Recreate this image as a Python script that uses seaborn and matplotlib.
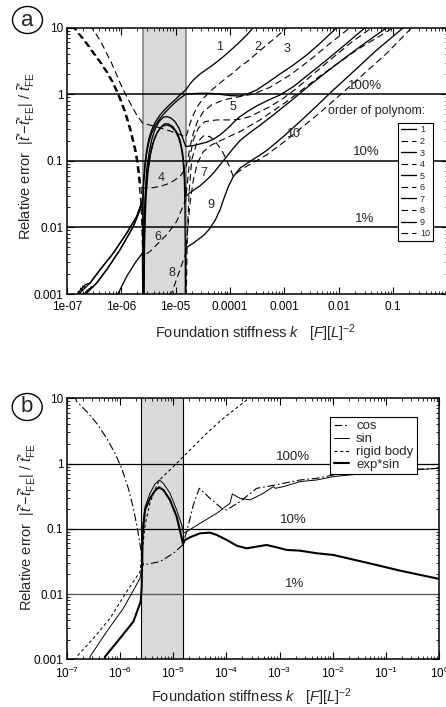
import numpy as np
import matplotlib
matplotlib.use("Agg")
import matplotlib.pyplot as plt
import seaborn as sns
from matplotlib.lines import Line2D
from matplotlib.patches import Ellipse
from matplotlib.ticker import LogLocator, NullFormatter

# ---------------- data (exponents: log10 k , log10 error) ----------------
k_left_edge = 2.5e-6
k_right_edge = 1.54e-5
ref_levels = [1.0, 0.1, 0.01]

# panel a : order of polynomial 1..10
c1_k = [-6.80,-6.785,-6.77,-6.755,-6.74,-6.72,-6.70,-6.68,-6.66,-6.571,-6.387,-6.142,-5.897,-5.713,-5.603,
        -5.585,-5.560,-5.529,-5.487,-5.438,-5.376,-5.284,-5.192,-5.100,-5.009,-4.917,-4.812,
        -4.733,-4.672,-4.549,-4.426,-4.273,-4.120,-3.967,-3.814,-3.691,-3.569,-3.507]
c1_e = [-3.02,-2.96,-3.00,-2.95,-2.91,-2.94,-2.88,-2.90,-2.86,-2.835,-2.635,-2.385,-2.085,-1.835,-1.585,
        -1.285,-1.035,-0.835,-0.66,-0.535,-0.425,-0.31,-0.225,-0.15,-0.085,-0.01,0.065,
        0.155,0.215,0.305,0.375,0.465,0.565,0.675,0.79,0.89,1.0,1.05]
c2_k = [-6.575,-6.540,-6.449,-6.357,-6.265,-6.173,-6.081,-5.989,-5.897,-5.805,-5.713,-5.603,-5.407,-5.162,-4.978,-4.812,
        -4.776,-4.733,-4.672,-4.598,-4.488,-4.335,-4.151,-3.936,-3.814,-3.661,-3.507,-3.324,-3.140,-2.956,-2.895]
c2_e = [1.04,1.0,0.89,0.765,0.615,0.465,0.29,0.115,-0.035,-0.175,-0.31,-0.435,-0.475,-0.535,-0.585,-0.645,
        -0.56,-0.435,-0.31,-0.185,-0.06,0.065,0.19,0.325,0.415,0.505,0.615,0.74,0.865,1.0,1.065]
c3_k = [-6.67,-6.655,-6.64,-6.625,-6.61,-6.59,-6.57,-6.55,-6.53,-6.449,-6.265,-6.020,-5.775,-5.603,
        -5.585,-5.560,-5.529,-5.487,-5.438,-5.376,-5.284,-5.192,-5.100,-5.009,-4.917,-4.812,
        -4.672,-4.549,-4.365,-4.181,-3.998,-3.814,-3.691,-3.507,-3.324,-3.078,-2.833,-2.588,-2.343,-2.037,-1.975]
c3_e = [-3.02,-2.97,-3.00,-2.94,-2.96,-2.92,-2.93,-2.89,-2.90,-2.835,-2.635,-2.335,-1.985,-1.635,
        -1.335,-1.085,-0.885,-0.71,-0.585,-0.475,-0.36,-0.275,-0.195,-0.125,-0.06,0.0,
        0.01,0.015,0.015,0.0,-0.02,-0.025,0.0,0.065,0.165,0.305,0.44,0.59,0.765,1.0,1.04]
c4_k = [-6.90,-6.865,-6.755,-6.632,-6.510,-6.387,-6.265,-6.142,-6.020,-5.928,-5.836,-5.775,-5.725,-5.689,-5.658,-5.630,-5.603,
        -5.468,-5.284,-5.100,-4.917,-4.812,
        -4.776,-4.733,-4.672,-4.598,-4.488,-4.335,-4.120,-3.814,-3.569,-3.262,-2.895,-2.527,-2.159,-1.792,-1.730]
c4_e = [1.04,1.0,0.89,0.765,0.625,0.49,0.34,0.165,-0.06,-0.26,-0.51,-0.71,-0.885,-1.085,-1.31,-1.39,-1.41,
        -1.41,-1.385,-1.335,-1.235,-1.11,
        -0.985,-0.785,-0.585,-0.41,-0.26,-0.16,-0.085,-0.035,0.005,0.105,0.29,0.515,0.765,1.0,1.03]
c5_k = [-6.67,-6.449,-6.265,-6.020,-5.775,-5.603,-5.597,
        -5.591,-5.578,-5.560,-5.529,-5.487,-5.438,-5.376,-5.303,-5.223,-5.162,-5.088,-5.009,-4.935,-4.874,-4.812,
        -4.672,-4.549,-4.426,-4.304,-4.181,-4.059,-3.936,-3.814,-3.661,-3.507,-3.324,-3.078,-2.833,-2.527,-2.221,-1.853,-1.516,-1.455]
c5_e = [-3.02,-2.835,-2.635,-2.335,-1.985,-1.635,-3.2,
        -3.2,-2.085,-1.535,-1.135,-0.885,-0.685,-0.525,-0.41,-0.345,-0.335,-0.355,-0.41,-0.51,-0.645,-0.785,
        -0.77,-0.745,-0.72,-0.675,-0.61,-0.525,-0.425,-0.335,-0.25,-0.175,-0.1,-0.01,0.115,0.315,0.515,0.765,1.0,1.035]
c6_k = [-6.915,-6.88,-6.77,-6.647,-6.525,-6.402,-6.28,-6.157,-6.035,-5.943,-5.851,-5.79,-5.74,-5.704,-5.673,-5.649,-5.630,-5.603,
        -5.468,-5.346,-5.162,-4.978,-4.812,
        -4.776,-4.733,-4.672,-4.580,-4.457,-4.243,-3.998,-3.814,-3.630,-3.446,-3.262,-3.017,-2.772,-2.466,-2.159,-1.792,-1.393,-1.332]
c6_e = [1.04,1.0,0.89,0.765,0.625,0.49,0.34,0.165,-0.06,-0.26,-0.51,-0.71,-0.885,-1.085,-1.31,-1.535,-1.685,-2.435,
        -2.36,-2.26,-2.11,-1.91,-1.585,
        -1.285,-0.935,-0.685,-0.51,-0.41,-0.385,-0.385,-0.375,-0.335,-0.26,-0.185,-0.06,0.09,0.305,0.515,0.765,1.0,1.03]
c7_k = [-6.80,-6.571,-6.387,-6.142,-5.897,-5.713,-5.603,-5.598,
        -5.585,-5.572,-5.554,-5.523,-5.480,-5.425,-5.358,-5.284,-5.205,-5.131,-5.051,-4.978,-4.917,-4.868,-4.837,-4.812,
        -4.733,-4.549,-4.426,-4.304,-4.181,-4.059,-3.936,-3.814,-3.630,-3.446,-3.201,-2.895,-2.527,-2.098,-1.608,-1.118,-1.057]
c7_e = [-3.02,-2.835,-2.635,-2.385,-2.085,-1.835,-1.585,-3.2,
        -3.2,-2.185,-1.635,-1.235,-0.96,-0.76,-0.61,-0.51,-0.445,-0.445,-0.485,-0.565,-0.685,-0.885,-1.135,-1.535,
        -1.475,-1.375,-1.285,-1.185,-1.06,-0.935,-0.81,-0.695,-0.575,-0.465,-0.31,-0.11,0.14,0.415,0.715,1.0,1.03]
c8_k = [-6.888,-6.853,-6.743,-6.62,-6.498,-6.375,-6.253,-6.13,-6.008,-5.916,-5.824,-5.763,-5.713,-5.677,-5.646,-5.622,-5.603,-5.600,
        -5.09,-5.070,-4.917,-4.812,
        -4.776,-4.733,-4.672,-4.598,-4.488,-4.335,-4.120,-3.814,-3.446,-2.956,-2.343,-1.669,-0.995,-0.934]
c8_e = [1.04,1.0,0.89,0.765,0.625,0.49,0.34,0.165,-0.06,-0.26,-0.51,-0.71,-0.885,-1.085,-1.31,-1.535,-1.685,-3.2,
        -3.2,-2.985,-2.635,-2.385,
        -2.035,-1.635,-1.285,-1.035,-0.86,-0.76,-0.675,-0.56,-0.385,-0.11,0.275,0.665,1.0,1.03]
c9_k = [-6.08,-6.050,-5.897,-5.744,-5.609,-5.600,
        -5.582,-5.566,-5.542,-5.505,-5.456,-5.395,-5.321,-5.241,-5.162,-5.082,-5.009,-4.947,-4.898,-4.861,-4.837,-4.825,-4.816,-4.812,
        -4.672,-4.549,-4.457,-4.365,-4.273,-4.181,-4.108,-4.028,-3.936,-3.814,-3.661,-3.507,-3.324,-3.017,-2.711,-2.404,-2.098,-1.730,-1.301,-0.811,-0.750]
c9_e = [-3.2,-2.985,-2.735,-2.535,-2.385,-3.2,
        -3.2,-2.085,-1.535,-1.16,-0.885,-0.685,-0.55,-0.48,-0.46,-0.485,-0.545,-0.645,-0.785,-0.985,-1.285,-1.785,-3.2,-2.31,
        -2.235,-2.16,-2.1,-2.01,-1.895,-1.735,-1.56,-1.385,-1.235,-1.11,-1.025,-0.945,-0.845,-0.635,-0.41,-0.175,0.065,0.34,0.665,1.0,1.03]
c10_k = [-4.806,-4.782,-4.751,-4.702,-4.610,-4.488,-4.365,-4.243,-4.120,-4.010,-3.936,-3.863,-3.752,-3.569,-3.324,-2.956,
         -2.343,-1.608,-1.118,-0.658,-0.597]
c10_e = [-3.2,-2.085,-1.485,-0.985,-0.735,-0.625,-0.635,-0.735,-0.885,-1.085,-1.235,-1.175,-1.11,-1.025,-0.91,-0.685,
         -0.275,0.255,0.615,1.0,1.03]

orders = ["1", "2", "3", "4", "5", "6", "7", "8", "9", "10"]
curves_k = [c1_k, c2_k, c3_k, c4_k, c5_k, c6_k, c7_k, c8_k, c9_k, c10_k]
curves_e = [c1_e, c2_e, c3_e, c4_e, c5_e, c6_e, c7_e, c8_e, c9_e, c10_e]
# curve number labels (log k, log err)
num_label_k = [-4.181, -3.49, -2.956, -5.266, -3.936, -5.333, -4.475, -5.058, -4.353, -2.833]
num_label_e = [0.715, 0.715, 0.675, -1.26, -0.195, -2.145, -1.185, -2.685, -1.66, -0.595]

# panel b : trial functions
cos_k = [-6.86,-6.81,-6.624,-6.436,-6.249,-6.092,-5.967,-5.842,-5.748,-5.685,-5.635,-5.610,-5.597,-5.560,-5.247,-4.996,-4.821,
         -4.746,-4.621,-4.508,-4.307,-4.088,-3.994,-3.744,-3.431,-3.243,-2.930,-2.617,-2.304,-1.991,-1.364,-0.738,0.0]
cos_e = [1.05,0.95,0.796,0.617,0.387,0.157,-0.073,-0.379,-0.686,-0.941,-1.171,-1.299,-1.40,-1.554,-1.503,-1.375,-1.248,
         -1.043,-0.635,-0.379,-0.533,-0.686,-0.711,-0.584,-0.379,-0.354,-0.303,-0.252,-0.226,-0.175,-0.124,-0.098,-0.073]
sin_k = [-6.60,-6.562,-6.249,-5.935,-5.622,-5.597,-5.572,-5.528,-5.435,-5.341,-5.259,-5.184,-5.059,-4.934,-4.840,-4.808,-4.746,
         -4.495,-4.182,-3.932,-3.888,-3.744,-3.556,-3.306,-3.118,-3.08,-2.930,-2.617,-2.304,-1.991,-1.364,-0.738,0.0]
sin_e = [-3.2,-2.959,-2.576,-2.218,-1.759,-1.631,-0.967,-0.660,-0.456,-0.313,-0.252,-0.303,-0.456,-0.711,-0.941,-1.069,-1.043,
         -0.916,-0.762,-0.609,-0.466,-0.533,-0.558,-0.456,-0.354,-0.38,-0.354,-0.277,-0.252,-0.200,-0.149,-0.109,-0.073]
rigid_k = [-6.85,-6.812,-6.499,-6.186,-5.873,-5.622,-5.585,-5.528,-5.435,-5.341,-5.259,-4.996,-4.808,-4.370,-4.057,-3.619,-3.55]
rigid_e = [-3.2,-2.959,-2.678,-2.372,-1.963,-1.656,-1.375,-0.95,-0.6,-0.40,-0.252,-0.047,0.106,0.464,0.693,0.974,1.02]
expsin_k = [-6.32,-6.280,-5.998,-5.748,-5.610,-5.591,-5.572,-5.528,-5.435,-5.341,-5.265,-5.184,-5.059,-4.934,-4.852,-4.815,-4.777,
            -4.683,-4.495,-4.307,-4.182,-3.994,-3.807,-3.619,-3.431,-3.243,-3.055,-2.867,-2.617,-2.304,-1.991,-1.364,-0.738,0.0]
expsin_e = [-3.2,-2.959,-2.678,-2.423,-2.116,-1.886,-1.069,-0.711,-0.533,-0.415,-0.364,-0.405,-0.558,-0.814,-1.094,-1.232,-1.171,
            -1.130,-1.069,-1.059,-1.094,-1.171,-1.258,-1.299,-1.273,-1.248,-1.284,-1.324,-1.335,-1.375,-1.401,-1.519,-1.641,-1.769]
trial_names = ["cos", "sin", "rigid body", "exp*sin"]

a_xticks = [1e-7, 1e-6, 1e-5, 1e-4, 1e-3, 1e-2, 1e-1]
a_xticklabels = ["1e-07", "1e-06", "1e-05", "0.0001", "0.001", "0.01", "0.1"]
yticks = [1e-3, 1e-2, 1e-1, 1, 10]
yticklabels = ["0.001", "0.01", "0.1", "1", "10"]

# ---------------- style ----------------
sns.set_theme(style="ticks")
plt.rcParams["font.family"] = ["Liberation Sans", "DejaVu Sans"]
plt.rcParams["mathtext.fontset"] = "custom"
plt.rcParams["mathtext.rm"] = "Liberation Sans"
plt.rcParams["mathtext.it"] = "Liberation Sans:italic"
plt.rcParams["mathtext.bf"] = "Liberation Sans:bold"

W, H = 446, 707
fig = plt.figure(figsize=(W / 100, H / 100), dpi=100)
fig.patch.set_facecolor("white")
ax_a = fig.add_axes([66.7 / W, (H - 294) / H, (447.5 - 66.7) / W, (294 - 27.7) / H])
ax_b = fig.add_axes([66.7 / W, (H - 659.3) / H, (439.3 - 66.7) / W, (659.3 - 398.3) / H])

def draw(ax, lk, le, **kw):
    sns.lineplot(x=10 ** np.asarray(lk, float), y=10 ** np.asarray(le, float), ax=ax,
                 sort=False, estimator=None, color="black", legend=False, **kw)

dash_a = (0, (6, 3.5))
for ax in (ax_a, ax_b):
    ax.set_xscale("log")
    ax.set_yscale("log")
    ax.set_xlim(1e-7, 1)
    ax.set_ylim(1e-3, 10)
    ax.set_facecolor("white")

# ---- panel a ----
ax_a.axvspan(k_left_edge, k_right_edge, color="#d9d9d9", zorder=0, lw=0)
for kk in (k_left_edge, k_right_edge):
    ax_a.axvline(kk, color="#7a7a7a", lw=1.1, zorder=1)
for lv in ref_levels:
    ax_a.axhline(lv, color="black", lw=1.1, zorder=1)

handles_a = []
for i, (lk, le) in enumerate(zip(curves_k, curves_e)):
    ls = "-" if i % 2 == 0 else dash_a
    lw = 0.95 if i % 2 == 0 else 0.8
    draw(ax_a, lk, le, linestyle=ls, linewidth=lw, zorder=3)
    handles_a.append(Line2D([], [], color="black", linestyle=ls, linewidth=lw))
    ax_a.text(10 ** num_label_k[i], 10 ** num_label_e[i], orders[i], fontsize=9,
              ha="center", va="center", zorder=4)

ax_a.text(10 ** -1.516, 10 ** 0.125, "100%", fontsize=9.5, ha="center", va="center")
ax_a.text(10 ** -1.50, 10 ** -0.86, "10%", fontsize=9.5, ha="center", va="center")
ax_a.text(10 ** -1.53, 10 ** -1.87, "1%", fontsize=9.5, ha="center", va="center")
ax_a.text(0.815, 0.687, "order of polynom:", transform=ax_a.transAxes, fontsize=9,
          ha="center", va="center")
leg_a = ax_a.legend(handles_a, orders, loc="upper right", bbox_to_anchor=(0.961, 0.643),
                    fontsize=6.5, frameon=True, fancybox=False, framealpha=1, edgecolor="black",
                    handlelength=1.7, handletextpad=0.45, labelspacing=0.28, borderpad=0.3,
                    borderaxespad=0)
leg_a.get_frame().set_linewidth(0.8)
ax_a.set_xticks(a_xticks)
ax_a.set_xticklabels(a_xticklabels)

# ---- panel b ----
ax_b.axvspan(k_left_edge, k_right_edge, color="#d9d9d9", zorder=0, lw=0)
for kk in (k_left_edge, k_right_edge):
    ax_b.axvline(kk, color="black", lw=0.8, zorder=1)
for lv, col in zip(ref_levels, ["black", "black", "#555555"]):
    ax_b.axhline(lv, color=col, lw=0.9, zorder=1)

sty_cos = dict(linestyle=(0, (7, 2.5, 1.5, 2.5)), linewidth=0.8)
sty_sin = dict(linestyle="-", linewidth=0.7)
sty_rig = dict(linestyle=(0, (3, 2.5)), linewidth=0.75)
sty_exp = dict(linestyle="-", linewidth=1.5)
draw(ax_b, cos_k, cos_e, zorder=3, **sty_cos)
draw(ax_b, sin_k, sin_e, zorder=3, **sty_sin)
draw(ax_b, rigid_k, rigid_e, zorder=3, **sty_rig)
draw(ax_b, expsin_k, expsin_e, zorder=3, **sty_exp)
handles_b = [Line2D([], [], color="black", **s) for s in (sty_cos, sty_sin, sty_rig, sty_exp)]
leg_b = ax_b.legend(handles_b, trial_names, loc="upper right", bbox_to_anchor=(0.939, 0.929),
                    fontsize=9.5, frameon=True, fancybox=False, framealpha=1, edgecolor="black",
                    handlelength=1.2, handletextpad=0.5, labelspacing=0.05, borderpad=0.25,
                    borderaxespad=0)
leg_b.get_frame().set_linewidth(0.8)
leg_b.set_zorder(5)
ax_b.text(10 ** -2.742, 10 ** 0.106, "100%", fontsize=9.5, ha="center", va="center")
ax_b.text(10 ** -2.742, 10 ** -0.865, "10%", fontsize=9.5, ha="center", va="center")
ax_b.text(10 ** -2.723, 10 ** -1.851, "1%", fontsize=9.5, ha="center", va="center")
ax_b.xaxis.set_major_locator(LogLocator(base=10, numticks=20))

# ---- common axes styling ----
ylab = r"Relative error  $|\bar{t}^{*}\!\!-\!\bar{t}^{*}_{\rm FE}|\ /\ \bar{t}^{*}_{\rm FE}$"
xlab = r"Foundation stiffness $k$   [$F$][$L$]$^{-2}$"
for ax, yc in ((ax_a, 0.518), (ax_b, 0.508)):
    ax.set_yticks(yticks)
    ax.set_yticklabels(yticklabels)
    ax.xaxis.set_minor_locator(LogLocator(base=10, subs=np.arange(2, 10) * 1.0, numticks=100))
    ax.yaxis.set_minor_locator(LogLocator(base=10, subs=np.arange(2, 10) * 1.0, numticks=100))
    ax.xaxis.set_minor_formatter(NullFormatter())
    ax.yaxis.set_minor_formatter(NullFormatter())
    ax.tick_params(which="both", direction="in", top=True, right=True, colors="black")
    ax.tick_params(which="major", length=5, width=0.8, labelsize=8.5)
    ax.tick_params(which="minor", length=2.5, width=0.6)
    ax.tick_params(axis="x", which="major", pad=5)
    ax.tick_params(axis="y", which="major", pad=2.5)
    for sp in ax.spines.values():
        sp.set_visible(True)
        sp.set_color("black")
        sp.set_linewidth(1.1)
    ax.set_xlabel(xlab, fontsize=10.5)
    ax.set_ylabel(ylab, fontsize=10.5)
    ax.xaxis.set_label_coords(0.497, -0.105)
    ax.yaxis.set_label_coords(-0.075, yc)

# circled panel letters
for (cx, cy, letter) in ((27.5, 20.0, "a"), (27.2, 407.0, "b")):
    fig.add_artist(Ellipse((cx / W, 1 - cy / H), width=30 / W, height=27 / H,
                           transform=fig.transFigure, fill=False, lw=1.0, ec="black"))
    fig.text(cx / W, 1 - cy / H, letter, fontsize=16, ha="center", va="center")

fig.savefig("out.png", dpi=100)
